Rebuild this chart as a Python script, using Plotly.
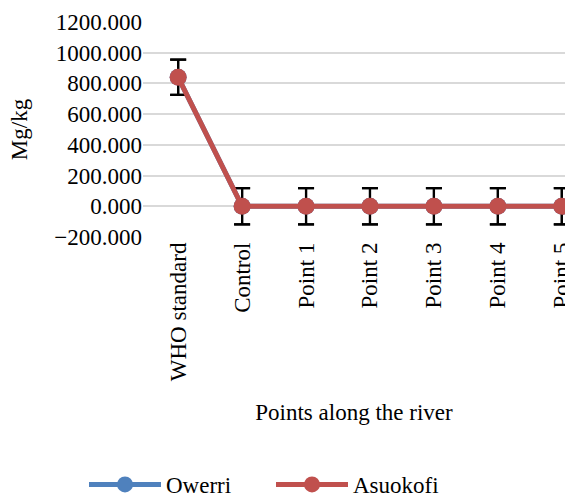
import plotly.graph_objects as go

categories = ["WHO standard", "Control", "Point 1", "Point 2", "Point 3", "Point 4", "Point 5"]
owerri = [840, 0, 0, 0, 0, 0, 0]
owerri_err = [115, 118, 118, 118, 118, 118, 118]
asuokofi = [840, 0, 0, 0, 0, 0, 0]
asuokofi_err = [115, 118, 118, 118, 118, 118, 118]
y_ticks = [-200, 0, 200, 400, 600, 800, 1000, 1200]

FONT = "Liberation Serif, Times New Roman, serif"
FS = 23
x_idx = list(range(len(categories)))
fnt = dict(family=FONT, size=FS, color="black")

fig = go.Figure()
fig.add_trace(go.Scatter(
    x=x_idx, y=owerri, name="Owerri", mode="lines+markers",
    line=dict(color="#4F81BD", width=5),
    marker=dict(color="#4F81BD", size=17),
    error_y=dict(type="data", array=owerri_err, color="black", thickness=2.2, width=8),
))
fig.add_trace(go.Scatter(
    x=x_idx, y=asuokofi, name="Asuokofi", mode="lines+markers",
    line=dict(color="#C0504D", width=5),
    marker=dict(color="#C0504D", size=17),
    error_y=dict(type="data", array=asuokofi_err, color="black", thickness=2.2, width=8),
))

fig.update_layout(
    width=565, height=497,
    margin=dict(l=143, r=0, t=22, b=260),
    paper_bgcolor="white", plot_bgcolor="white",
    font=fnt,
    showlegend=True,
    legend=dict(orientation="h", xref="container", yref="container",
                x=84 / 565, y=1 - 463 / 497, xanchor="left", yanchor="top",
                itemwidth=72, entrywidth=100, font=fnt, traceorder="normal"),
)
fig.update_xaxes(
    tickmode="array", tickvals=x_idx, ticktext=categories, tickangle=-90,
    range=[-0.55, 6.05], showgrid=False, zeroline=False, showline=False,
    ticks="", tickfont=fnt, automargin=False, ticklabeloverflow="allow",
    title=dict(text="Points along the river", font=fnt, standoff=23),
)
fig.update_yaxes(
    range=[-200, 1200], tickvals=y_ticks, tickformat=".3f",
    showgrid=True, gridcolor="#D9D9D9", gridwidth=1.5,
    zeroline=False, showline=False, ticks="", tickfont=fnt, automargin=False,
    title=dict(text="Mg/kg", font=fnt, standoff=20),
)

fig.write_html("out.html", config={"displayModeBar": False},
               post_script="document.body.style.margin='0';")
